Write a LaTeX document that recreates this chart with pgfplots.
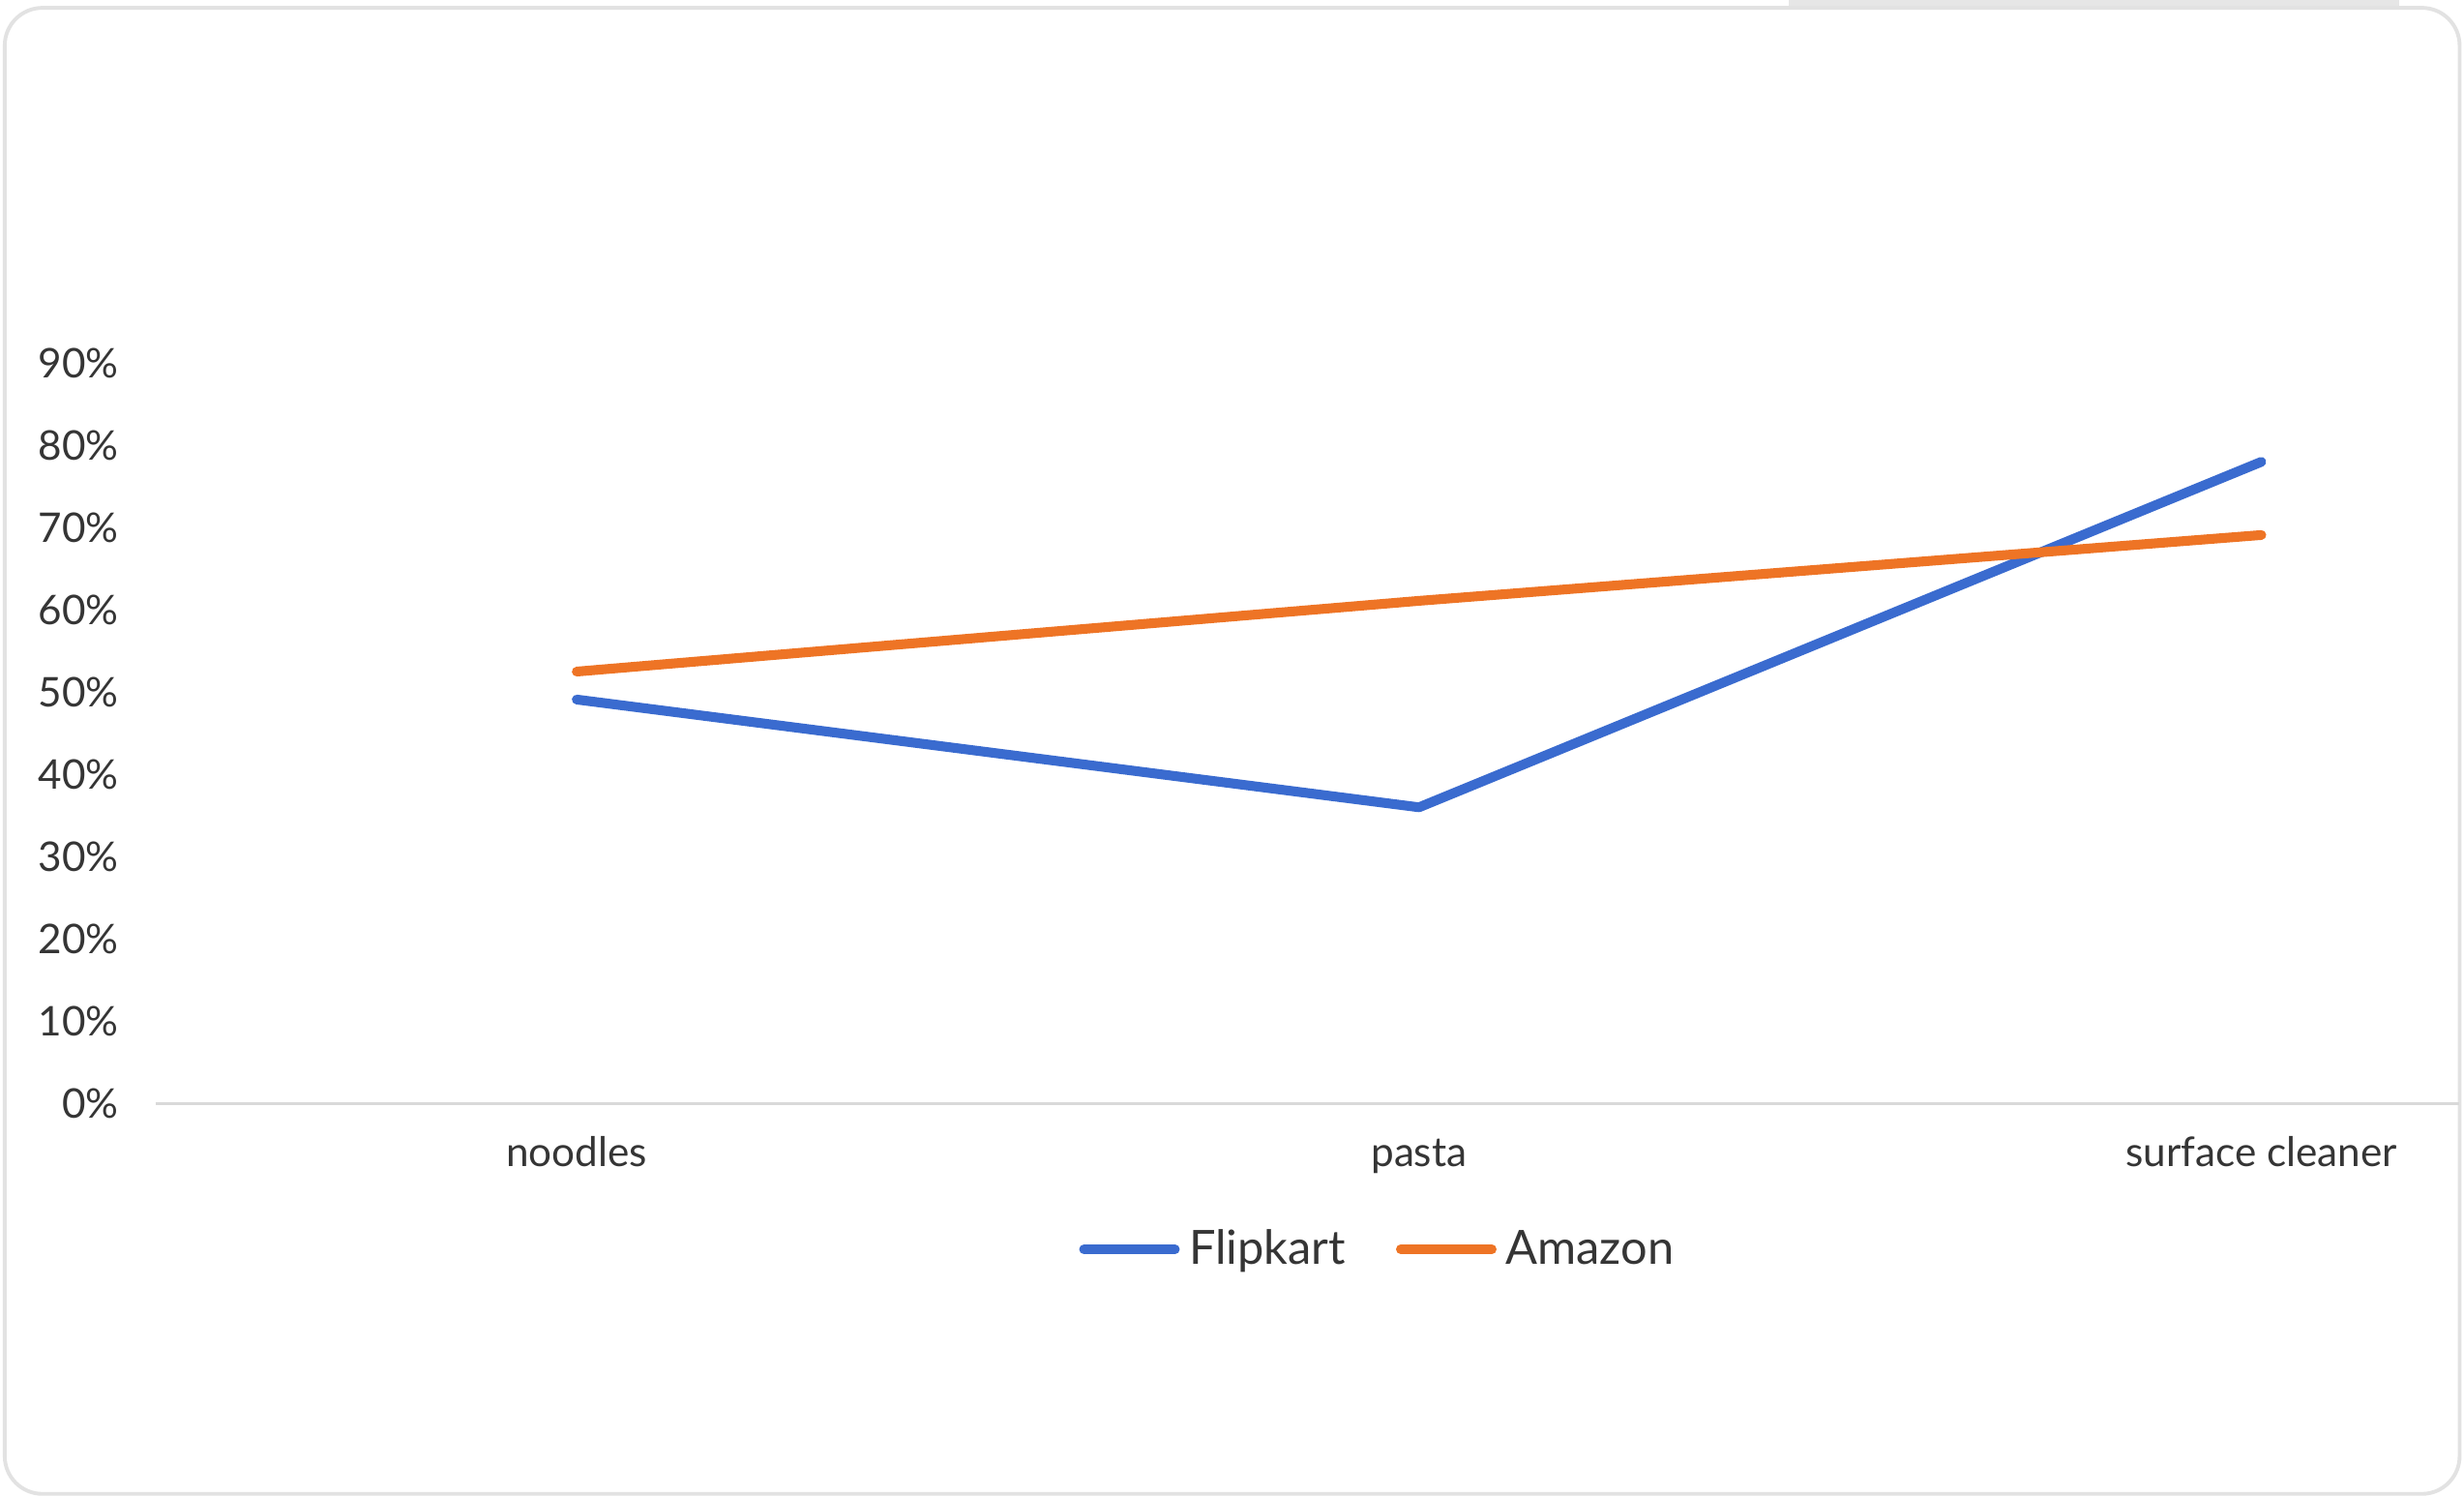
\documentclass[border=0pt]{standalone}
\usepackage{fontspec}
\setmainfont{Lato}
\usepackage{pgfplots}
\pgfplotsset{compat=1.18}
\definecolor{flip}{HTML}{3A6BCF}
\definecolor{amz}{HTML}{EE7425}
\definecolor{txt}{HTML}{353535}
\definecolor{axisgray}{HTML}{D9D9D9}
\definecolor{cardborder}{HTML}{E2E2E2}
\definecolor{shadow}{HTML}{E6E6E6}
\begin{document}
\begin{tikzpicture}[x=1pt,y=1pt]
\path[use as bounding box] (0,0) rectangle (784,476);
\fill[shadow] (569,472) rectangle (763.5,476);
\draw[cardborder, line width=1.2pt, fill=white, rounded corners=12pt] (1.5,0.8) rectangle (782.6,473.5);
\begin{axis}[
  at={(49.5pt,125pt)}, anchor=south west,
  scale only axis, width=733pt, height=235.5pt,
  xmin=-0.5, xmax=2.235, ymin=0, ymax=90,
  clip=false,
  axis lines*=left,
  y axis line style={draw=none},
  x axis line style={axisgray, line width=1pt},
  major tick length=0pt,
  xtick={0,1,2},
  xticklabels={noodles,pasta,surface cleaner},
  ytick={0,10,20,30,40,50,60,70,80,90},
  yticklabels={0\%,10\%,20\%,30\%,40\%,50\%,60\%,70\%,80\%,90\%},
  yticklabel style={anchor=east, inner sep=0pt, xshift=-11.5pt, font=\fontsize{13}{15}\selectfont, text=txt},
  xticklabel style={anchor=base, inner sep=0pt, yshift=-20pt, font=\fontsize{13}{15}\selectfont, text=txt},
  legend columns=2,
  legend style={at={(0.530,-0.197)}, anchor=center, draw=none, fill=none,
    font=\fontsize{15}{18}\selectfont, text=txt,
    nodes={inner sep=0pt},
    /tikz/every odd column/.append style={column sep=3pt},
    /tikz/every even column/.append style={column sep=16pt}},
  legend image code/.code={\draw[line width=3pt, line cap=round] (1.5pt,0pt) -- (30.5pt,0pt);},
]
\addplot[flip, line width=3.1pt, line join=round, line cap=round] coordinates {(0,49.1) (1,36.0) (2,78.0)};
\addlegendentry{Flipkart}
\addplot[amz, line width=3.1pt, line join=round, line cap=round] coordinates {(0,52.5) (1,61.1) (2,69.1)};
\addlegendentry{Amazon}
\end{axis}
\end{tikzpicture}
\end{document}
